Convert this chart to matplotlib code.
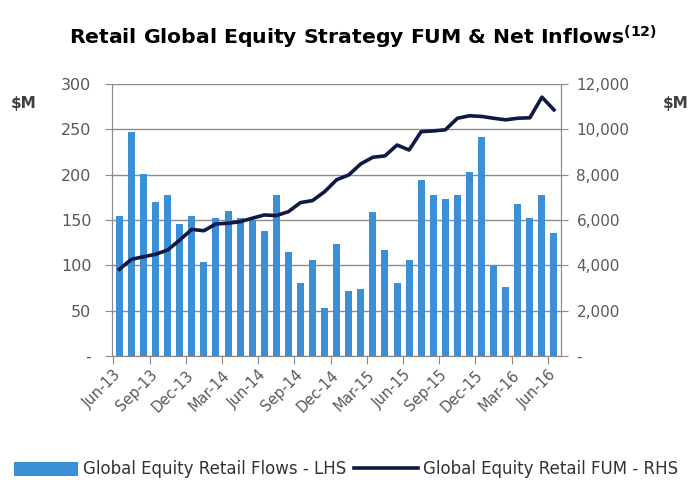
import matplotlib.pyplot as plt
import numpy as np

# monthly, Jun-13 .. Jun-16
flows = [155, 247, 201, 170, 178, 146, 154, 104, 152, 160, 152, 150, 138,
         178, 115, 81, 106, 53, 124, 72, 74, 159, 117, 81, 106, 194, 178,
         173, 178, 203, 242, 99, 76, 168, 152, 178, 136]
fum = [3830, 4270, 4385, 4490, 4680, 5120, 5590, 5530, 5830, 5860, 5930,
       6080, 6225, 6200, 6370, 6770, 6860, 7250, 7780, 7990, 8480, 8770,
       8830, 9310, 9090, 9900, 9930, 9980, 10490, 10600, 10570, 10490,
       10420, 10490, 10510, 11420, 10860]
tick_labels = ["Jun-13", "Sep-13", "Dec-13", "Mar-14", "Jun-14", "Sep-14",
               "Dec-14", "Mar-15", "Jun-15", "Sep-15", "Dec-15", "Mar-16",
               "Jun-16"]

x = np.arange(len(flows))
grey = "#595959"

fig = plt.figure(figsize=(6.92, 4.8), dpi=100)
ax = fig.add_axes([0.162, 0.258, 0.649, 0.567])
ax2 = ax.twinx()

bars = ax.bar(x, flows, width=0.58, color="#3A8FD6", zorder=3,
              label="Global Equity Retail Flows - LHS")
line, = ax2.plot(x, fum, color="#0E1A45", lw=2.6, solid_joinstyle="round",
                 label="Global Equity Retail FUM - RHS")

ax.set_xlim(-0.6, len(flows) - 0.4)
ax.set_ylim(0, 300)
ax2.set_ylim(0, 12000)
ax.set_yticks(range(0, 301, 50))
ax.set_yticklabels(["-"] + [str(v) for v in range(50, 301, 50)])
ax2.set_yticks(range(0, 12001, 2000))
ax2.set_yticklabels(["-"] + [f"{v:,}" for v in range(2000, 12001, 2000)])
ax.grid(axis="y", color="#8c8c8c", lw=1, zorder=0)
ax.set_axisbelow(True)

ax.set_xticks(np.arange(0, len(flows), 3) - 0.5)
ax.set_xticklabels(tick_labels, rotation=45, ha="right", rotation_mode="anchor",
                   fontsize=10.5, color=grey)

for a in (ax, ax2):
    a.spines["top"].set_visible(False)
    for s in ("left", "right", "bottom"):
        a.spines[s].set_color("#8c8c8c")
    a.tick_params(axis="y", length=5, color="#8c8c8c", labelsize=11.5,
                  labelcolor=grey, pad=10)
ax.tick_params(axis="x", length=6, color="#8c8c8c", pad=2)
ax2.tick_params(axis="y", pad=6, labelsize=11)

fig.text(0.034, 0.785, "$M", fontsize=11, fontweight="bold", color="#404040",
         ha="center", va="center")
fig.text(0.977, 0.785, "$M", fontsize=11, fontweight="bold", color="#404040",
         ha="center", va="center")

fig.text(0.525, 0.922, r"Retail Global Equity Strategy FUM & Net Inflows$^{\mathbf{(12)}}$",
         fontsize=14.7, fontweight="bold", ha="center", va="center")

fig.legend(handles=[bars, line], loc="center", bbox_to_anchor=(0.5, 0.022),
           ncol=2, frameon=False, fontsize=12, handlelength=3.8,
           handleheight=0.9, columnspacing=0.5, handletextpad=0.3,
           labelcolor="#333333")

fig.savefig("out.png", dpi=100)
